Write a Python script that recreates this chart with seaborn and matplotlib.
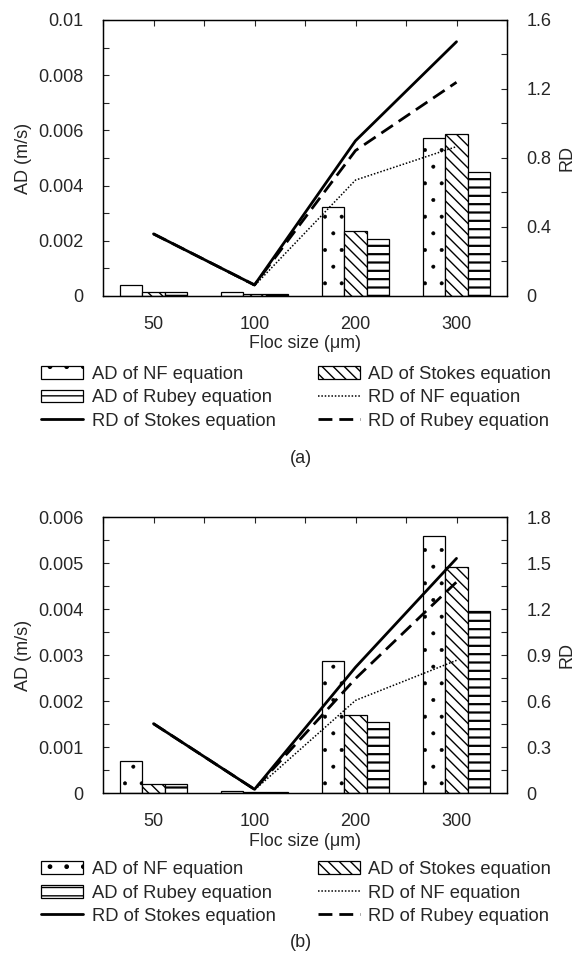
import numpy as np
import pandas as pd
import matplotlib
matplotlib.use('Agg')
import matplotlib.pyplot as plt
import seaborn as sns
from matplotlib.patches import Patch
from matplotlib.lines import Line2D
from matplotlib.ticker import MultipleLocator, FuncFormatter

sizes = ['50', '100', '200', '300']
methods = ['NF', 'Stokes', 'Rubey']

# panel (a)
ad_a_nf = [0.00040, 0.00013, 0.00324, 0.00571]
ad_a_stokes = [0.000145, 0.00006, 0.00234, 0.00586]
ad_a_rubey = [0.00013, 0.00006, 0.00208, 0.00450]
rd_a_nf = [0.36, 0.06, 0.672, 0.866]
rd_a_stokes = [0.36, 0.064, 0.90, 1.474]
rd_a_rubey = [0.36, 0.064, 0.843, 1.239]

# panel (b)
ad_b_nf = [0.00069, 0.000043, 0.00286, 0.00558]
ad_b_stokes = [0.00020, 0.00002, 0.00170, 0.00491]
ad_b_rubey = [0.00020, 0.00002, 0.00154, 0.00395]
rd_b_nf = [0.452, 0.02, 0.604, 0.865]
rd_b_stokes = [0.452, 0.024, 0.82, 1.53]
rd_b_rubey = [0.452, 0.024, 0.746, 1.376]

sns.set_style('white')
plt.rcParams['font.family'] = ['Liberation Sans', 'DejaVu Sans']
plt.rcParams['font.size'] = 13
plt.rcParams['hatch.linewidth'] = 1.0

hatches = {'NF': '.', 'Stokes': '\\\\\\', 'Rubey': '--'}
hatch_lw = {'NF': 0.4, 'Stokes': 1.0, 'Rubey': 1.6}
fmt = FuncFormatter(lambda v, p: '%g' % round(v, 6))
dot_ls = (0, (1, 1.2))
dash_ls = (0, (5, 2.5))


def style_hatch(patch, m):
    patch.set_hatch(hatches[m])
    if hasattr(patch, 'set_hatch_linewidth'):
        patch.set_hatch_linewidth(hatch_lw[m])


def draw_panel(fig, rect, ad, rd, ad_max, ad_major, ad_minor, rd_max, rd_major, rd_minor, tag, leg_y, tag_y, xl_y):
    ax = fig.add_axes(rect)
    df = pd.DataFrame({
        'size': sizes * 3,
        'method': [m for m in methods for _ in sizes],
        'ad': ad['NF'] + ad['Stokes'] + ad['Rubey'],
    })
    sns.barplot(data=df, x='size', y='ad', hue='method', order=sizes, hue_order=methods,
                palette={m: 'white' for m in methods}, width=0.663, errorbar=None,
                edgecolor='black', linewidth=0.9, legend=False, ax=ax)
    for cont, m in zip(ax.containers, methods):
        for bar in cont:
            style_hatch(bar, m)

    ax2 = ax.twinx()
    xs = np.arange(len(sizes))
    sns.lineplot(x=xs, y=rd['NF'], ax=ax2, color='black', linewidth=1.1, linestyle=dot_ls)
    sns.lineplot(x=xs, y=rd['Rubey'], ax=ax2, color='black', linewidth=2, linestyle=dash_ls)
    sns.lineplot(x=xs, y=rd['Stokes'], ax=ax2, color='black', linewidth=2)

    ax.set_xlim(-0.5, 3.5)
    ax.set_ylim(0, ad_max)
    ax2.set_ylim(0, rd_max)
    ax.set_xlabel('')
    ax.set_ylabel('')
    ax2.set_ylabel('')

    ax.yaxis.set_major_locator(MultipleLocator(ad_major))
    ax.yaxis.set_minor_locator(MultipleLocator(ad_minor))
    ax.yaxis.set_major_formatter(fmt)
    ax2.yaxis.set_major_locator(MultipleLocator(rd_major))
    ax2.yaxis.set_minor_locator(MultipleLocator(rd_minor))
    ax2.yaxis.set_major_formatter(fmt)

    ax.xaxis.set_minor_locator(MultipleLocator(0.5))
    ax.xaxis.remove_overlapping_locs = False
    ax.tick_params(axis='x', which='major', length=0, pad=14.5, labelsize=13)
    ax.tick_params(axis='x', which='minor', direction='in', top=True, bottom=False, length=4, width=0.8)
    ax.tick_params(axis='y', which='both', direction='in', left=True, right=False, length=4, width=0.8, pad=14, labelsize=13)
    ax2.tick_params(axis='y', which='both', direction='in', right=True, left=False, length=4, width=0.8, pad=14, labelsize=13)

    for a in (ax, ax2):
        for s in a.spines.values():
            s.set_color('black')
            s.set_linewidth(0.9)

    y_mid = rect[1] + rect[3] / 2
    fig.text(24 / W, y_mid, 'AD (m/s)', rotation=90, ha='center', va='center', fontsize=13)
    fig.text(567 / W, y_mid, 'RD', rotation=90, ha='center', va='center', fontsize=13)
    fig.text(305 / W, xl_y, 'Floc size (\u03bcm)', ha='center', va='center', fontsize=12.8)

    handles = []
    for m in ['NF', 'Rubey']:
        p = Patch(facecolor='white', edgecolor='black', linewidth=0.9)
        style_hatch(p, m)
        handles.append(p)
    handles.append(Line2D([], [], color='black', linewidth=2))
    p = Patch(facecolor='white', edgecolor='black', linewidth=0.9)
    style_hatch(p, 'Stokes')
    handles.append(p)
    handles.append(Line2D([], [], color='black', linewidth=1.1, linestyle=dot_ls))
    handles.append(Line2D([], [], color='black', linewidth=2, linestyle=dash_ls))
    labels = ['AD of NF equation', 'AD of Rubey equation', 'RD of Stokes equation',
              'AD of Stokes equation', 'RD of NF equation', 'RD of Rubey equation']
    fig.legend(handles, labels, loc='center', bbox_to_anchor=(296 / W, leg_y), ncol=2,
               frameon=False, fontsize=13.2, handlelength=2.3, handleheight=0.7,
               handletextpad=0.44, columnspacing=2.3, labelspacing=0.34,
               borderpad=0, borderaxespad=0)
    fig.text(301 / W, tag_y, tag, ha='center', va='center', fontsize=13)
    return ax, ax2


W, H = 579, 963
fig = plt.figure(figsize=(W / 100, H / 100), dpi=100)

draw_panel(fig, [103 / W, 1 - 296 / H, 404 / W, 276 / H],
           {'NF': ad_a_nf, 'Stokes': ad_a_stokes, 'Rubey': ad_a_rubey},
           {'NF': rd_a_nf, 'Stokes': rd_a_stokes, 'Rubey': rd_a_rubey},
           0.01, 0.002, 0.001, 1.6, 0.4, 0.2, '(a)',
           1 - 398 / H, 1 - 458 / H, 1 - 343 / H)

draw_panel(fig, [103 / W, 1 - 793 / H, 404 / W, 276 / H],
           {'NF': ad_b_nf, 'Stokes': ad_b_stokes, 'Rubey': ad_b_rubey},
           {'NF': rd_b_nf, 'Stokes': rd_b_stokes, 'Rubey': rd_b_rubey},
           0.006, 0.001, 0.0005, 1.8, 0.3, 0.15, '(b)',
           1 - 893 / H, 1 - 942 / H, 1 - 841 / H)

fig.savefig('out.png', dpi=100)
